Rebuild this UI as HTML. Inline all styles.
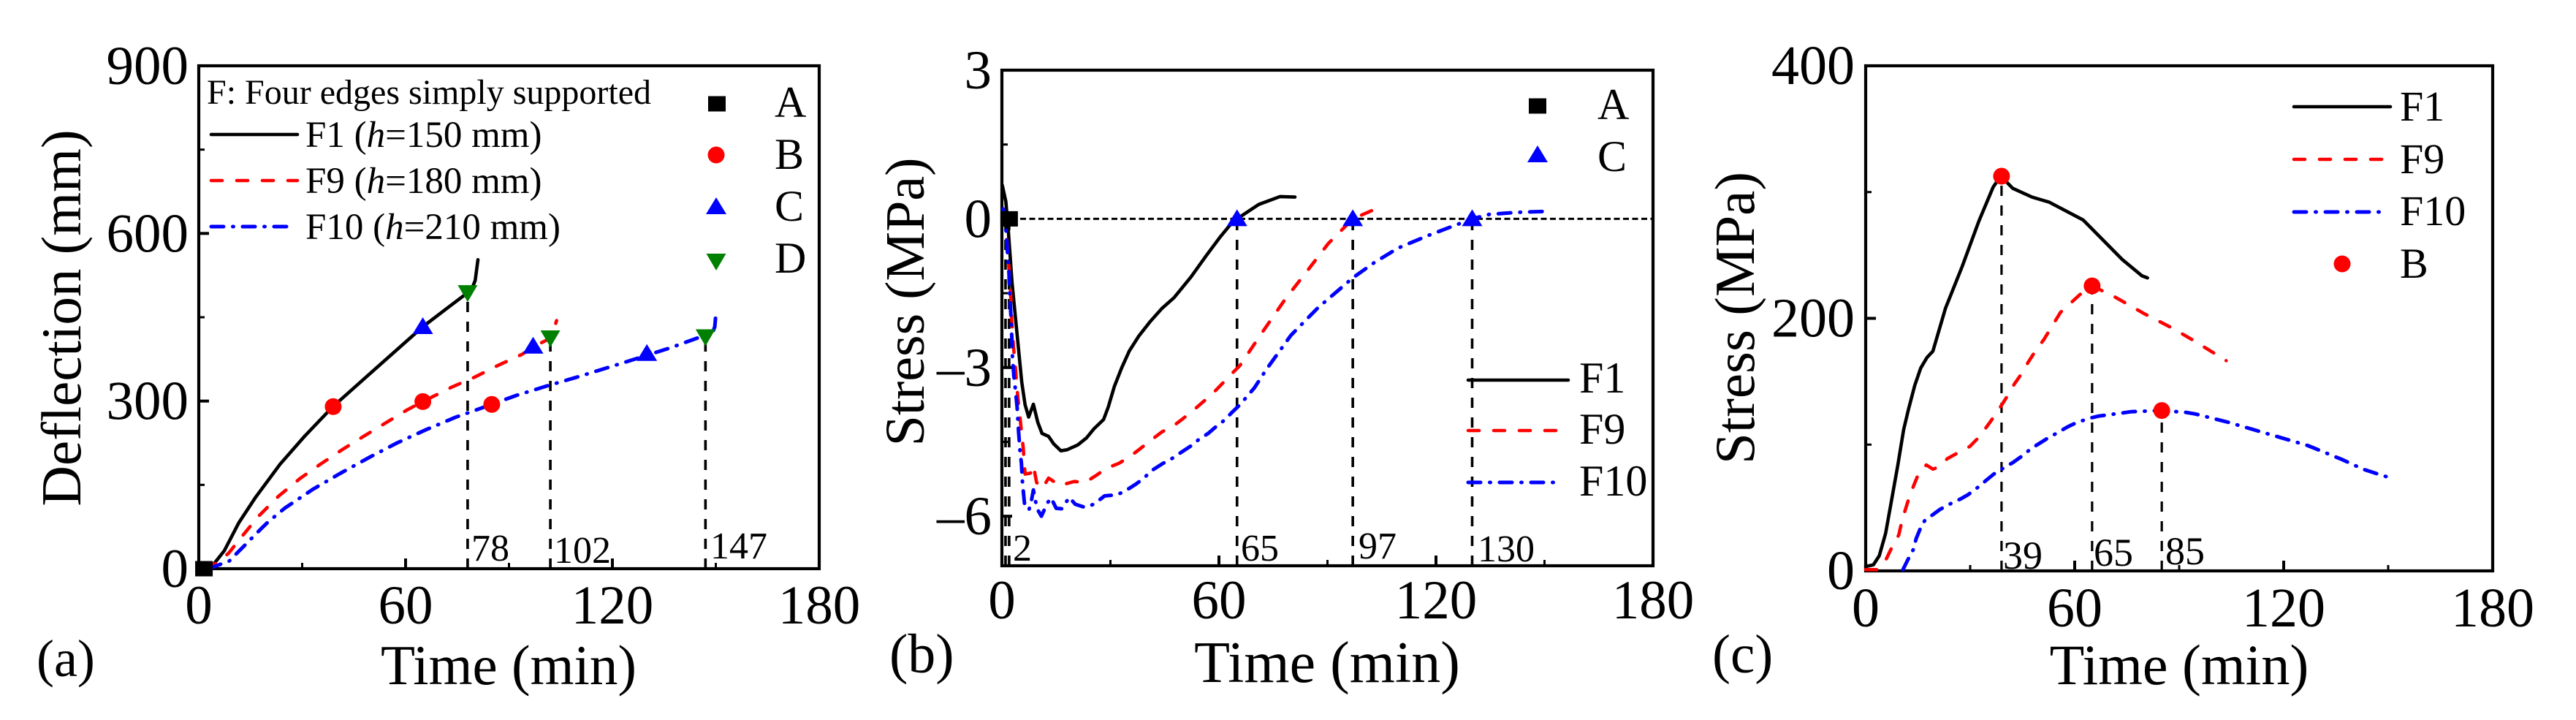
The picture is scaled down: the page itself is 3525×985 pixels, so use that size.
<!DOCTYPE html>
<html lang="en">
<head>
<meta charset="utf-8">
<title>Deflection and stress versus time</title>
<style>
html,body{margin:0;padding:0;background:#fff;}
svg{display:block;}
text{font-family:"Liberation Serif","Times New Roman",serif;fill:#000;}
</style>
</head>
<body>
<svg id="figure" xmlns="http://www.w3.org/2000/svg" width="3525" height="985" viewBox="0 0 3525 985">
  <rect x="0" y="0" width="3525" height="985" fill="#fff"/>

  <g id="panel-a"></g>
  <g id="panel-b"></g>
  <g id="panel-c"></g>

  <g>
    <text transform="translate(110,435) rotate(-90)" text-anchor="middle" font-size="77">Deflection (mm)</text>
    <text x="696" y="936" text-anchor="middle" font-size="77">Time (min)</text>
    <text x="50" y="925" font-size="72">(a)</text>
    <text x="283" y="142" font-size="48">F: Four edges simply supported</text>
    <text x="418" y="201" font-size="51">F1 (<tspan font-style="italic">h</tspan>=150 mm)</text>
    <text x="418" y="264" font-size="51">F9 (<tspan font-style="italic">h</tspan>=180 mm)</text>
    <text x="418" y="327" font-size="51">F10 (<tspan font-style="italic">h</tspan>=210 mm)</text>
    <text x="1060" y="160" font-size="60">A</text>
    <text x="1060" y="231" font-size="60">B</text>
    <text x="1060" y="302" font-size="60">C</text>
    <text x="1060" y="373" font-size="60">D</text>
    <text x="645" y="767" font-size="52">78</text>
    <text x="758" y="770" font-size="52">102</text>
    <text x="972" y="764" font-size="52">147</text>
  </g>

  <g>
    <text transform="translate(1264,413) rotate(-90)" text-anchor="middle" font-size="76">Stress (MPa)</text>
    <text x="1816" y="933" text-anchor="middle" font-size="80">Time (min)</text>
    <text x="1217" y="920" font-size="76">(b)</text>
    <text x="2186" y="163" font-size="60">A</text>
    <text x="2186" y="234" font-size="60">C</text>
    <text x="2161" y="537" font-size="60">F1</text>
    <text x="2161" y="607" font-size="60">F9</text>
    <text x="2161" y="678" font-size="60">F10</text>
    <text x="1386" y="767" font-size="52">2</text>
    <text x="1698" y="767" font-size="52">65</text>
    <text x="1859" y="764" font-size="52">97</text>
    <text x="2022" y="768" font-size="52">130</text>
  </g>

  <g>
    <text transform="translate(2400,435) rotate(-90)" text-anchor="middle" font-size="77">Stress (MPa)</text>
    <text x="2982" y="936" text-anchor="middle" font-size="78">Time (min)</text>
    <text x="2343" y="920" font-size="75">(c)</text>
    <text x="3284" y="165" font-size="58">F1</text>
    <text x="3284" y="237" font-size="58">F9</text>
    <text x="3284" y="308" font-size="58">F10</text>
    <text x="3284" y="380" font-size="58">B</text>
    <text x="2741" y="778" font-size="54">39</text>
    <text x="2865" y="774" font-size="54">65</text>
    <text x="2963" y="772" font-size="54">85</text>
  </g>
</svg>

<script>
/* ---------- shared axis data ---------- */
var timeTickValues = [0, 60, 120, 180];
var timeTickLabels = ['0', '60', '120', '180'];
var timeMinorValues = [30, 90, 150];

/* ---------- panel (a) deflection ---------- */
var aYTickValues = [0, 300, 600, 900];
var aYTickLabels = ['0', '300', '600', '900'];
var aYMinorValues = [150, 450, 750];

var aF1Time = [1.5, 3.8, 7.4, 11.6, 16.5, 23.6, 30.7, 38.9, 50.2, 65, 72, 77.8, 79.5, 80.2, 81];
var aF1Deflection = [0, 4, 32, 82, 128, 187, 237, 290, 352, 433, 466, 493, 505, 516, 553];

var aF9Time = [2, 5.9, 8.7, 12.3, 17.2, 23.2, 29.3, 35.3, 41.6, 47.6, 54, 60.4, 65, 73.4, 80.1, 86.9, 93.6, 97, 99.6, 101.9, 103.1, 103.8];
var aF9Deflection = [0, 13, 28, 56, 93, 130, 161, 187, 213, 236, 260, 284, 299, 325, 343, 364, 383, 396, 405, 412, 429, 444];

var aF10Time = [3, 5.9, 8.8, 11.6, 18, 20, 25, 33.1, 40.9, 49.4, 57.5, 66, 74.5, 77.3, 84.9, 92.1, 101, 109.8, 118.7, 127.5, 136.7, 145.2, 149, 149.7, 150];
var aF10Deflection = [0, 7, 13.5, 31, 71, 83, 108.6, 142, 170, 199, 225, 249, 271, 277, 294, 310, 327, 343, 360, 377, 395, 414, 421, 433, 454];

var aPointATime = [1.5];
var aPointAValue = [0];
var aPointBTime = [39, 65, 85];
var aPointBValue = [290, 299, 294];
var aPointCTime = [65, 97, 130];
var aPointCValue = [433, 398, 385];
var aPointDTime = [78, 102, 147];
var aPointDValue = [493, 412, 414];

/* ---------- panel (b) concrete stress ---------- */
var bYTickValues = [-6, -3, 0, 3];
var bYTickLabels = ['\u20136', '\u20133', '0', '3'];
var bYMinorValues = [-4.5, -1.5, 1.5];

var bF1Time = [0.1, 1.1, 1.8, 2.8, 3.8, 5.5, 6.4, 7.4, 8.7, 9.9, 11.1, 12.9, 14.3, 16.3, 18, 21, 23.4, 25.4, 28.1, 29.4, 31.1, 33.1, 35.2, 37.8, 40.9, 44.2, 47.6, 52.3, 56.4, 60.4, 63.8, 65, 71, 76.9, 81];
var bF1Stress = [0.68, 0.35, -0.26, -1.29, -2.03, -3.3, -3.75, -4, -3.74, -4.1, -4.33, -4.39, -4.54, -4.68, -4.66, -4.56, -4.42, -4.24, -4.05, -3.8, -3.38, -3.01, -2.67, -2.37, -2.08, -1.81, -1.59, -1.17, -0.75, -0.36, -0.06, 0, 0.29, 0.45, 0.44];

var bF9Time = [0.8, 1.35, 1.95, 2.4, 2.7, 3.2, 3.8, 4.4, 5.2, 5.9, 6.4, 7.9, 8.7, 9.6, 11.2, 12.9, 16, 20, 23, 26, 28.7, 32.4, 35.5, 38.2, 40.8, 44.2, 47.2, 49.9, 52.8, 55.5, 58.2, 60.7, 63.2, 65.8, 71.8, 78.4, 84.3, 90.2, 97, 103.6];
var bF9Stress = [0.1, -0.41, -1, -1.49, -2.03, -2.57, -3.06, -3.6, -4.14, -4.63, -5.15, -5.13, -4.98, -5.32, -5.44, -5.23, -5.38, -5.3, -5.32, -5.18, -5.04, -4.93, -4.79, -4.64, -4.49, -4.3, -4.19, -4.04, -3.87, -3.7, -3.53, -3.34, -3.15, -2.96, -2.31, -1.61, -1.06, -0.5, 0, 0.21];

var bF10Time = [0.3, 1.15, 1.5, 1.95, 2.15, 2.4, 2.6, 2.8, 2.9, 3.3, 3.7, 4.2, 4.6, 5, 5.4, 5.7, 6.3, 7.5, 8.2, 8.7, 9.1, 9.9, 10.9, 12.6, 13.6, 15, 16.6, 18.6, 20.3, 22.9, 25.4, 28.4, 31.8, 34.1, 37.1, 39.3, 41.2, 44.6, 46.9, 49.6, 52.3, 54.3, 57, 59.4, 61.4, 63.4, 66.1, 67.8, 69.8, 73.1, 79.9, 87.3, 97, 102.8, 109.5, 118.4, 130, 134.7, 142, 150];
var bF10Stress = [0.2, -0.24, -0.63, -1.1, -1.49, -1.83, -2.15, -2.52, -2.78, -3.16, -3.42, -3.8, -4.29, -4.69, -4.93, -5.33, -5.79, -5.87, -5.67, -5.47, -5.64, -5.87, -6, -5.73, -5.63, -5.84, -5.85, -5.62, -5.76, -5.82, -5.76, -5.59, -5.57, -5.49, -5.35, -5.23, -5.09, -4.93, -4.84, -4.71, -4.58, -4.46, -4.33, -4.18, -4.07, -3.92, -3.73, -3.58, -3.41, -3.04, -2.35, -1.8, -1.19, -0.89, -0.59, -0.32, 0, 0.09, 0.13, 0.15];

var bPointATime = [2];
var bPointAValue = [0];
var bPointCTime = [65, 97, 130];
var bPointCValue = [0, 0, 0];
var bDropTime = [1, 2, 65, 97, 130];

/* ---------- panel (c) steel stress ---------- */
var cYTickValues = [0, 200, 400];
var cYTickLabels = ['0', '200', '400'];
var cYMinorValues = [100, 300];

var cF1Time = [0, 2.2, 3.9, 5.7, 7.1, 9.2, 10.9, 12.3, 14.1, 15.8, 17.6, 19.3, 22.9, 27.7, 32.5, 36.6, 38.8, 42.2, 47.8, 52.7, 62.4, 67.2, 73.7, 79.3, 80.9];
var cF1Stress = [3.5, 4.8, 12, 29.5, 50.7, 83.5, 112, 128, 147, 160.6, 169, 174, 208, 241, 277, 304, 312.6, 303, 296, 292, 278, 264.6, 246.5, 233.7, 232];

var cF9Time = [0, 3.2, 5.9, 7.4, 9.5, 10.2, 11.3, 12.3, 13.7, 15, 17.4, 19.3, 20.7, 23.5, 26.6, 29.9, 32.2, 34.7, 36.8, 38.9, 40.8, 42.7, 44.7, 46.6, 48.7, 51.1, 55.9, 62.4, 65, 71.3, 80.1, 88.2, 93.8, 103.5];
var cF9Stress = [1, 1, 9.3, 18, 28.5, 37, 47.8, 56.5, 67, 75.8, 83.9, 80.6, 82, 89, 93.7, 98.5, 105, 114, 122, 130.7, 139, 148, 156, 165, 174, 183, 204.7, 221, 225.7, 217.3, 203.5, 192, 183, 166.5];

var cF10Time = [10.7, 12, 13.7, 14.5, 15.8, 17, 19, 21.4, 24.9, 27.2, 29.4, 32.6, 34.5, 36.8, 39.9, 42.4, 44.5, 47.6, 49.9, 52.2, 55.7, 57.9, 60.6, 64.4, 66.9, 73.5, 76.1, 82.6, 85, 92, 94.6, 100, 104.3, 115.6, 126.9, 136.6, 142.9, 150.2];
var cF10Stress = [1, 8.3, 17, 25.6, 34.3, 40, 44, 48.8, 54, 56.9, 60.3, 67, 71.5, 76.7, 82, 86, 90.2, 97, 101, 105, 110.4, 114, 117.5, 121, 122.6, 125, 126, 126.8, 127, 125.5, 124.3, 120.5, 117.5, 108.4, 99.3, 88.4, 80.4, 74];

var cPointBTime = [39, 65, 85];
var cPointBValue = [312.6, 225.7, 127];

/* ---------- drawing helpers ---------- */
var SVG_NS = 'http://www.w3.org/2000/svg';
var BLACK_STYLE = {color: '#000', width: 4.6, dash: null};
var RED_STYLE = {color: '#ff0000', width: 4.6, dash: '15 20'};
var BLUE_STYLE = {color: '#0000ff', width: 5, dash: '17 12.5 1 12.5'};

function linearScale(d0, d1, p0, p1) {
  return function (v) { return p0 + (v - d0) * (p1 - p0) / (d1 - d0); };
}

function addLineShape(parent, x1, y1, x2, y2, width, dash, name) {
  var el = document.createElementNS(SVG_NS, 'line');
  el.setAttribute('x1', x1);
  el.setAttribute('y1', y1);
  el.setAttribute('x2', x2);
  el.setAttribute('y2', y2);
  el.setAttribute('stroke', '#000');
  el.setAttribute('stroke-width', width);
  if (dash) el.setAttribute('stroke-dasharray', dash);
  
  
  parent.appendChild(el);
  return el;
}

function addSeries(parent, xs, ys, sx, sy, style, name) {
  var d = '';
  for (var i = 0; i < xs.length; i++) {
    d += (i === 0 ? 'M' : 'L') + sx(xs[i]).toFixed(1) + ' ' + sy(ys[i]).toFixed(1);
  }
  var el = document.createElementNS(SVG_NS, 'path');
  el.setAttribute('d', d);
  el.setAttribute('fill', 'none');
  el.setAttribute('stroke', style.color);
  el.setAttribute('stroke-width', style.width);
  el.setAttribute('stroke-linecap', 'round');
  el.setAttribute('stroke-linejoin', 'round');
  if (style.dash) el.setAttribute('stroke-dasharray', style.dash);
  
  
  parent.appendChild(el);
}

function addMarker(parent, kind, x, y, name) {
  var el;
  if (kind === 'square') {
    el = document.createElementNS(SVG_NS, 'rect');
    el.setAttribute('x', x - 12);
    el.setAttribute('y', y - 10.5);
    el.setAttribute('width', 24);
    el.setAttribute('height', 21);
    el.setAttribute('fill', '#000');
  } else if (kind === 'circle') {
    el = document.createElementNS(SVG_NS, 'circle');
    el.setAttribute('cx', x);
    el.setAttribute('cy', y);
    el.setAttribute('r', 11.5);
    el.setAttribute('fill', '#ff0000');
  } else if (kind === 'up') {
    el = document.createElementNS(SVG_NS, 'polygon');
    el.setAttribute('points', x + ',' + (y - 13) + ' ' + (x + 14) + ',' + (y + 10) + ' ' + (x - 14) + ',' + (y + 10));
    el.setAttribute('fill', '#0000ff');
  } else {
    el = document.createElementNS(SVG_NS, 'polygon');
    el.setAttribute('points', (x - 13.5) + ',' + (y - 11) + ' ' + (x + 13.5) + ',' + (y - 11) + ' ' + x + ',' + (y + 12));
    el.setAttribute('fill', '#008000');
  }
  
  
  parent.appendChild(el);
}

function addMarkers(parent, kind, xs, ys, sx, sy, name) {
  for (var i = 0; i < xs.length; i++) {
    addMarker(parent, kind, sx(xs[i]), sy(ys[i]), name);
  }
}

function addLabel(parent, x, y, anchor, size, content, name) {
  var el = document.createElementNS(SVG_NS, 'text');
  el.setAttribute('x', x);
  el.setAttribute('y', y);
  el.setAttribute('text-anchor', anchor);
  el.setAttribute('font-size', size);
  el.textContent = content;
  
  
  parent.appendChild(el);
}

function addAxes(parent, box, sx, sy, yValues, yLabels, yMinor, fontSize, xLabelBaseline, yLabelRight) {
  var i;
  for (i = 0; i < timeTickValues.length; i++) {
    addLineShape(parent, sx(timeTickValues[i]), box.bottom, sx(timeTickValues[i]), box.bottom - 14, 4, null, 'x-major-tick');
    addLabel(parent, sx(timeTickValues[i]), xLabelBaseline, 'middle', fontSize, timeTickLabels[i], 'x-tick-label');
  }
  for (i = 0; i < timeMinorValues.length; i++) {
    addLineShape(parent, sx(timeMinorValues[i]), box.bottom, sx(timeMinorValues[i]), box.bottom - 8, 3, null, 'x-minor-tick');
  }
  for (i = 0; i < yValues.length; i++) {
    addLineShape(parent, box.left, sy(yValues[i]), box.left + 14, sy(yValues[i]), 4, null, 'y-major-tick');
    addLabel(parent, yLabelRight, sy(yValues[i]) + 25, 'end', fontSize, yLabels[i], 'y-tick-label');
  }
  for (i = 0; i < yMinor.length; i++) {
    addLineShape(parent, box.left, sy(yMinor[i]), box.left + 8, sy(yMinor[i]), 3, null, 'y-minor-tick');
  }
}

function addFrame(parent, box) {
  var el = document.createElementNS(SVG_NS, 'rect');
  el.setAttribute('x', box.left);
  el.setAttribute('y', box.top);
  el.setAttribute('width', box.right - box.left);
  el.setAttribute('height', box.bottom - box.top);
  el.setAttribute('fill', 'none');
  el.setAttribute('stroke', '#000');
  el.setAttribute('stroke-width', 4.2);
  
  
  parent.appendChild(el);
}

function addLegendLine(parent, x1, x2, y, style, name) {
  var el = document.createElementNS(SVG_NS, 'line');
  el.setAttribute('x1', x1);
  el.setAttribute('y1', y);
  el.setAttribute('x2', x2);
  el.setAttribute('y2', y);
  el.setAttribute('stroke', style.color);
  el.setAttribute('stroke-width', style.width);
  el.setAttribute('stroke-linecap', 'round');
  if (style.dash) el.setAttribute('stroke-dasharray', style.dash);
  
  
  parent.appendChild(el);
}

function addDrops(parent, times, tops, sx, sy, bottomPx, width) {
  for (var i = 0; i < times.length; i++) {
    addLineShape(parent, sx(times[i]), bottomPx, sx(times[i]), sy(tops[i]), width, '14 13', 'failure-time-drop-line');
  }
}

/* ---------- panel (a) ---------- */
(function () {
  var g = document.getElementById('panel-a');
  var box = {left: 272, right: 1121, top: 90, bottom: 778};
  var sx = linearScale(0, 180, box.left, box.right);
  var sy = linearScale(0, 900, box.bottom, box.top);
  addFrame(g, box);
  addAxes(g, box, sx, sy, aYTickValues, aYTickLabels, aYMinorValues, 75, 853, 258);
  addDrops(g, aPointDTime, aPointDValue, sx, sy, box.bottom, 3.6);
  addSeries(g, aF1Time, aF1Deflection, sx, sy, BLACK_STYLE, 'series-f1');
  addSeries(g, aF9Time, aF9Deflection, sx, sy, RED_STYLE, 'series-f9');
  addSeries(g, aF10Time, aF10Deflection, sx, sy, BLUE_STYLE, 'series-f10');
  addMarkers(g, 'square', aPointATime, aPointAValue, sx, sy, 'point-a');
  addMarkers(g, 'circle', aPointBTime, aPointBValue, sx, sy, 'point-b');
  addMarkers(g, 'up', aPointCTime, aPointCValue, sx, sy, 'point-c');
  addMarkers(g, 'down', aPointDTime, aPointDValue, sx, sy, 'point-d');
  addLegendLine(g, 289, 407, 184, BLACK_STYLE, 'legend-f1-line');
  addLegendLine(g, 289, 407, 247, RED_STYLE, 'legend-f9-line');
  addLegendLine(g, 289, 398, 310, BLUE_STYLE, 'legend-f10-line');
  addMarker(g, 'square', 981, 142, 'legend-a-marker');
  addMarker(g, 'circle', 980, 212, 'legend-b-marker');
  addMarker(g, 'up', 980, 283, 'legend-c-marker');
  addMarker(g, 'down', 980, 358, 'legend-d-marker');
})();

/* ---------- panel (b) ---------- */
(function () {
  var g = document.getElementById('panel-b');
  var box = {left: 1371, right: 2262, top: 96, bottom: 774};
  var sx = linearScale(0, 180, box.left, box.right);
  var sy = linearScale(-7, 3, box.bottom, box.top);
  var i;
  addFrame(g, box);
  addAxes(g, box, sx, sy, bYTickValues, bYTickLabels, bYMinorValues, 75, 846, 1357);
  addLineShape(g, box.left, sy(0), box.right, sy(0), 3, '8 4.5', 'zero-stress-reference-line');
  for (i = 0; i < bDropTime.length; i++) {
    addLineShape(g, sx(bDropTime[i]), box.bottom, sx(bDropTime[i]), sy(0), 3.6, '14 13', 'time-drop-line');
  }
  addSeries(g, bF1Time, bF1Stress, sx, sy, BLACK_STYLE, 'series-f1');
  addSeries(g, bF9Time, bF9Stress, sx, sy, RED_STYLE, 'series-f9');
  addSeries(g, bF10Time, bF10Stress, sx, sy, BLUE_STYLE, 'series-f10');
  addMarkers(g, 'square', bPointATime, bPointAValue, sx, sy, 'point-a');
  addMarkers(g, 'up', bPointCTime, bPointCValue, sx, sy, 'point-c');
  addMarker(g, 'square', 2104, 145, 'legend-a-marker');
  addMarker(g, 'up', 2104, 212, 'legend-c-marker');
  addLegendLine(g, 2009, 2146, 520, BLACK_STYLE, 'legend-f1-line');
  addLegendLine(g, 2009, 2138, 589, RED_STYLE, 'legend-f9-line');
  addLegendLine(g, 2009, 2138, 660, BLUE_STYLE, 'legend-f10-line');
})();

/* ---------- panel (c) ---------- */
(function () {
  var g = document.getElementById('panel-c');
  var box = {left: 2553, right: 3411, top: 90, bottom: 781};
  var sx = linearScale(0, 180, box.left, box.right);
  var sy = linearScale(0, 400, box.bottom, box.top);
  addFrame(g, box);
  addAxes(g, box, sx, sy, cYTickValues, cYTickLabels, cYMinorValues, 76, 857, 2538);
  addDrops(g, cPointBTime, cPointBValue, sx, sy, box.bottom, 3.2);
  addSeries(g, cF1Time, cF1Stress, sx, sy, BLACK_STYLE, 'series-f1');
  addSeries(g, cF9Time, cF9Stress, sx, sy, RED_STYLE, 'series-f9');
  addSeries(g, cF10Time, cF10Stress, sx, sy, BLUE_STYLE, 'series-f10');
  addMarkers(g, 'circle', cPointBTime, cPointBValue, sx, sy, 'point-b');
  addLegendLine(g, 3139, 3271, 146, BLACK_STYLE, 'legend-f1-line');
  addLegendLine(g, 3139, 3263, 218, RED_STYLE, 'legend-f9-line');
  addLegendLine(g, 3139, 3263, 290, BLUE_STYLE, 'legend-f10-line');
  addMarker(g, 'circle', 3205, 361, 'legend-b-marker');
})();
</script>
</body>
</html>
